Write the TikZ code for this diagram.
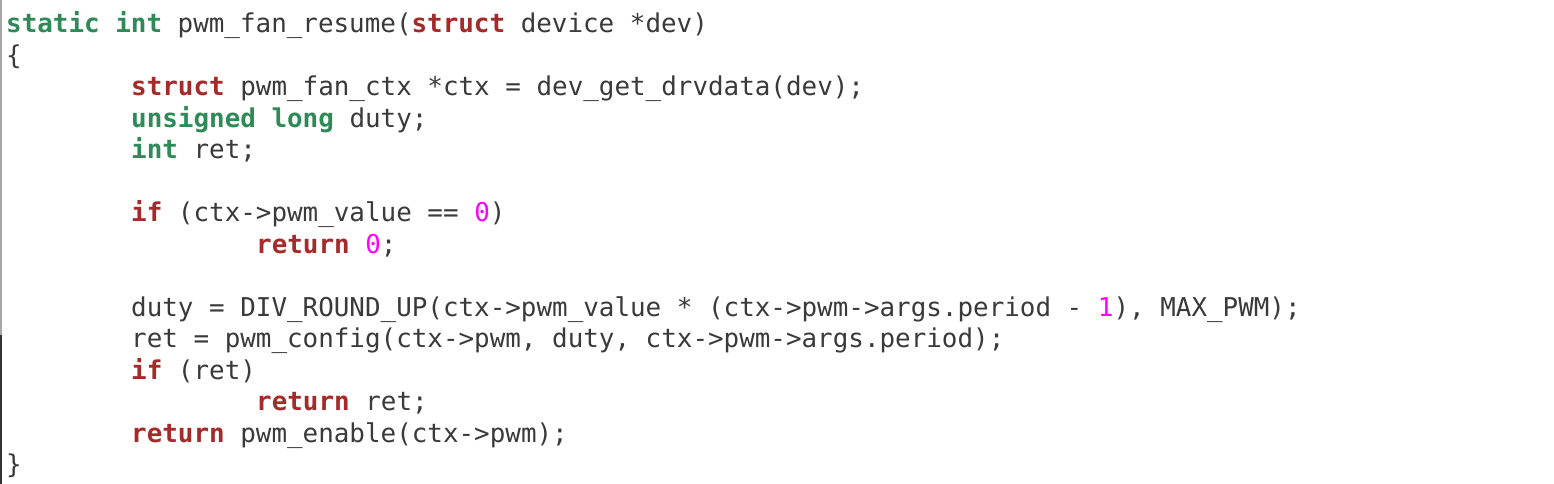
\documentclass[tikz,border=0pt]{standalone}
\usepackage{fontspec}
\newfontfamily\codefont{DejaVu Sans Mono}
\definecolor{kwgreen}{HTML}{2E8B57}
\definecolor{kwred}{HTML}{A52A2A}
\definecolor{numpink}{HTML}{FF00FF}
\definecolor{codetext}{HTML}{3A3A3A}
\newcommand\cgreen[1]{\textcolor{kwgreen}{\bfseries #1}}
\newcommand\cred[1]{\textcolor{kwred}{\bfseries #1}}
\newcommand\cnum[1]{\textcolor{numpink}{#1}}
\tikzset{
  codeline/.style={anchor=base west, inner sep=0pt, text=codetext,
    font=\codefont\fontsize{25.9pt}{31.5pt}\selectfont}
}
\begin{document}
\begin{tikzpicture}[x=1pt,y=1pt]
\useasboundingbox (0,0) rectangle (1554,484);
\fill[white] (0,0) rectangle (1554,484);
% left editor edge
\fill[black!35] (0,149) rectangle (2.2,484);
\fill[black!80] (0,0) rectangle (2.2,149);
% code lines
\node[codeline] (l1)  at (6,451)   {\cgreen{static} \cgreen{int} pwm\_fan\_resume(\cred{struct} device *dev)};
\node[codeline] (l2)  at (6,419.5) {\{};
\node[codeline] (l3)  at (131,388) {\cred{struct} pwm\_fan\_ctx *ctx = dev\_get\_drvdata(dev);};
\node[codeline] (l4)  at (131,356.5) {\cgreen{unsigned} \cgreen{long} duty;};
\node[codeline] (l5)  at (131,325) {\cgreen{int} ret;};
\node[codeline] (l7)  at (131,262) {\cred{if} (ctx->pwm\_value == \cnum{0})};
\node[codeline] (l8)  at (256,230.5) {\cred{return} \cnum{0};};
\node[codeline] (l10) at (131,167.5) {duty = DIV\_ROUND\_UP(ctx->pwm\_value * (ctx->pwm->args.period - \cnum{1}), MAX\_PWM);};
\node[codeline] (l11) at (131,136) {ret = pwm\_config(ctx->pwm, duty, ctx->pwm->args.period);};
\node[codeline] (l12) at (131,104.5) {\cred{if} (ret)};
\node[codeline] (l13) at (256,73) {\cred{return} ret;};
\node[codeline] (l14) at (131,41.5) {\cred{return} pwm\_enable(ctx->pwm);};
\node[codeline] (l15) at (6,10) {\}};
\end{tikzpicture}
\end{document}
